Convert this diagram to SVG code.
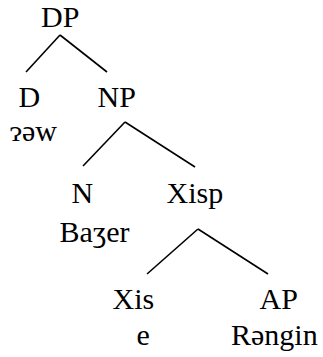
<svg xmlns="http://www.w3.org/2000/svg" width="323" height="357" viewBox="0 0 323 357">
<style>
text{font-family:'Liberation Serif','Times New Roman',serif;font-size:30px;fill:#000}
.e line{stroke:#000;stroke-width:1.6}
</style>
<rect width="323" height="357" fill="#fff"/>
<g class="e" id="connectors">
<line x1="60" y1="35" x2="26" y2="72"/>
<line x1="60" y1="35" x2="107" y2="72"/>
<line x1="125" y1="122" x2="83" y2="166"/>
<line x1="125" y1="122" x2="195" y2="167"/>
<line x1="198" y1="229" x2="147" y2="274"/>
<line x1="198" y1="229" x2="268" y2="274"/>
</g>
<g id="DP"><text x="41" y="27">DP</text></g>
<g id="D"><text x="18.5" y="107">D</text><text x="10" y="141">ɂəw</text></g>
<g id="NP"><text x="97.5" y="107">NP</text></g>
<g id="N"><text x="71.5" y="203">N</text><text x="59.5" y="242">Baʒer</text></g>
<g id="Xisp"><text x="166.5" y="203">Xisp</text></g>
<g id="Xis"><text x="112.5" y="309">Xis</text><text x="136.5" y="345">e</text></g>
<g id="AP"><text x="259.5" y="309">AP</text><text x="231" y="345">Rəngin</text></g>
</svg>
